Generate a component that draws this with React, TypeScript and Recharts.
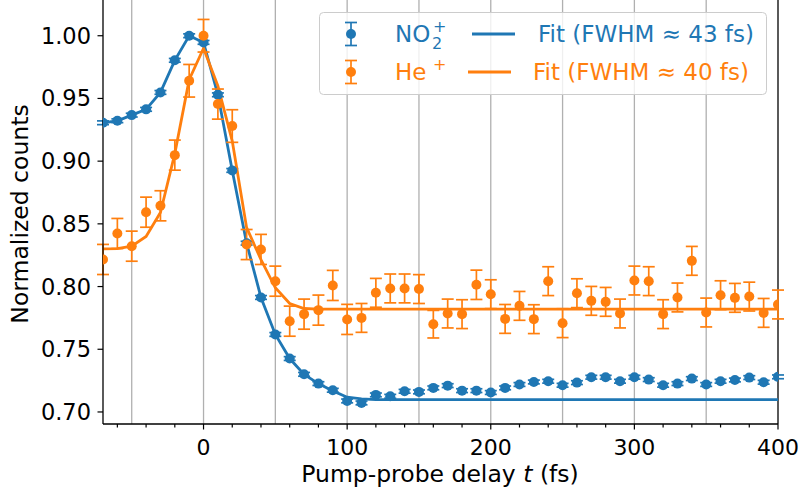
import React from "react";
import {
  ComposedChart,
  Line,
  Scatter,
  XAxis,
  YAxis,
  ErrorBar,
  ReferenceLine,
} from "recharts";

const BLUE = "#1f77b4";
const ORANGE = "#ff7f0e";
const FONT = "'DejaVu Sans', sans-serif";

// pump-probe delays (fs)
const delays = [
  -70, -60, -50, -40, -30, -20, -10, 0, 10, 20, 30, 40, 50, 60, 70, 80, 90, 100,
  110, 120, 130, 140, 150, 160, 170, 180, 190, 200, 210, 220, 230, 240, 250, 260,
  270, 280, 290, 300, 310, 320, 330, 340, 350, 360, 370, 380, 390, 400,
];

// NO2+ normalized counts
const no2Counts = [
  0.9306, 0.9322, 0.9367, 0.9413, 0.9548, 0.9804, 1.0, 0.9947, 0.9529, 0.8926,
  0.8346, 0.7913, 0.7618, 0.7426, 0.73, 0.7226, 0.7173, 0.7088, 0.7072, 0.7136,
  0.7125, 0.7165, 0.716, 0.7192, 0.721, 0.717, 0.717, 0.7155, 0.7192, 0.7219,
  0.7239, 0.7245, 0.7213, 0.7234, 0.7277, 0.7277, 0.7245, 0.7277, 0.7258, 0.7213,
  0.7226, 0.7266, 0.7219, 0.7245, 0.7255, 0.7274, 0.7237, 0.728,
];
const no2Err = [
  0.0015, 0.0015, 0.0015, 0.0015, 0.0015, 0.0015, 0.0015, 0.0015, 0.0015, 0.0015,
  0.0015, 0.0015, 0.0015, 0.0015, 0.0015, 0.0015, 0.0015, 0.0015, 0.0015, 0.0015,
  0.0015, 0.0015, 0.0015, 0.0015, 0.0015, 0.0015, 0.0015, 0.0015, 0.0015, 0.0015,
  0.0015, 0.0015, 0.0015, 0.0015, 0.0015, 0.0015, 0.0015, 0.0015, 0.0015, 0.0015,
  0.0015, 0.0015, 0.0015, 0.0015, 0.0015, 0.0015, 0.0015, 0.0015,
];
const no2Fit = [
  0.9306, 0.9322, 0.9367, 0.9413, 0.9548, 0.9804, 1.0, 0.9947, 0.9529, 0.8926,
  0.8346, 0.7913, 0.7618, 0.7426, 0.73, 0.7226, 0.7168, 0.7118, 0.7104, 0.7099,
  0.7098, 0.7098, 0.7098, 0.7098, 0.7098, 0.7098, 0.7098, 0.7098, 0.7098, 0.7098,
  0.7098, 0.7098, 0.7098, 0.7098, 0.7098, 0.7098, 0.7098, 0.7098, 0.7098, 0.7098,
  0.7098, 0.7098, 0.7098, 0.7098, 0.7098, 0.7098, 0.7098, 0.7098,
];

// He+ normalized counts
const heCounts = [
  0.8216, 0.8423, 0.8322, 0.8593, 0.8644, 0.9048, 0.9641, 1.0, 0.9455, 0.928,
  0.8335, 0.8296, 0.8043, 0.7724, 0.778, 0.7812, 0.8009, 0.7738, 0.775, 0.795,
  0.7985, 0.7985, 0.798, 0.77, 0.7785, 0.778, 0.8014, 0.7939, 0.7742, 0.7846,
  0.774, 0.8043, 0.7708, 0.7947, 0.7886, 0.7878, 0.7785, 0.8048, 0.8043, 0.778,
  0.7913, 0.8205, 0.7793, 0.7931, 0.791, 0.792, 0.779, 0.7857,
];
const heErr = [
  0.012, 0.012, 0.012, 0.012, 0.012, 0.012, 0.013, 0.013, 0.012, 0.013,
  0.012, 0.012, 0.012, 0.012, 0.012, 0.012, 0.012, 0.012, 0.0115, 0.0115,
  0.0115, 0.0115, 0.0115, 0.011, 0.0115, 0.0115, 0.0117, 0.0115, 0.0115, 0.0115,
  0.0115, 0.0115, 0.0115, 0.0115, 0.0115, 0.0115, 0.0115, 0.0115, 0.0115, 0.0115,
  0.0115, 0.0115, 0.0115, 0.0115, 0.0115, 0.0115, 0.0115, 0.0115,
];
const heFit = [
  0.83, 0.8303, 0.8322, 0.84, 0.859, 0.906, 0.965, 0.99, 0.96, 0.916,
  0.847, 0.8215, 0.799, 0.7865, 0.7825, 0.782, 0.782, 0.782, 0.782, 0.782,
  0.782, 0.782, 0.782, 0.782, 0.782, 0.782, 0.782, 0.782, 0.782, 0.782,
  0.782, 0.782, 0.782, 0.782, 0.782, 0.782, 0.782, 0.782, 0.782, 0.782,
  0.782, 0.782, 0.782, 0.782, 0.782, 0.782, 0.782, 0.782,
];

const xTicks = [
  -60, -40, -20, 0, 20, 40, 60, 80, 100, 120, 140, 160, 180, 200, 220, 240, 260,
  280, 300, 320, 340, 360, 380, 400,
];
const yTicks = [0.7, 0.75, 0.8, 0.85, 0.9, 0.95, 1.0];
const gridX = [-50, 0, 50, 100, 150, 200, 250, 300, 350];

const no2Points = delays.map((t, i) => ({ t, v: no2Counts[i], err: no2Err[i] }));
const hePoints = delays.map((t, i) => ({ t, v: heCounts[i], err: heErr[i] }));
const no2FitLine = delays.map((t, i) => ({ t, v: no2Fit[i] }));
const heFitLine = delays.map((t, i) => ({ t, v: heFit[i] }));

function XTick(props: any) {
  const { x, y, payload } = props;
  const major = payload.value % 100 === 0;
  return (
    <g>
      <line x1={x} x2={x} y1={y} y2={y + (major ? 5.5 : 3.5)} stroke="#000" strokeWidth={1.2} />
      {major && (
        <text x={x} y={y + 31} textAnchor="middle" fontSize={22} fontFamily={FONT} fill="#000">
          {payload.value}
        </text>
      )}
    </g>
  );
}

function XLabel() {
  return (
    <text x={440} y={482} textAnchor="middle" fontSize={23.5} fontFamily={FONT} fill="#000">
      Pump-probe delay <tspan fontStyle="italic">t</tspan> (fs)
    </text>
  );
}

function YLabel() {
  return (
    <text
      x={27.5}
      y={214}
      transform="rotate(-90 27.5 214)"
      textAnchor="middle"
      fontSize={23.5}
      fontFamily={FONT}
      fill="#000"
    >
      Normalized counts
    </text>
  );
}

function Dot(color: string) {
  return (p: any) => <circle cx={p.cx} cy={p.cy} r={5} fill={color} />;
}

function ErrMarker({ cy, color }: { cy: number; color: string }) {
  return (
    <g stroke={color} strokeWidth={1.7}>
      <line x1={32} x2={32} y1={cy - 11.5} y2={cy + 11.5} />
      <line x1={26} x2={38} y1={cy - 11.5} y2={cy - 11.5} />
      <line x1={26} x2={38} y1={cy + 11.5} y2={cy + 11.5} />
      <circle cx={32} cy={cy} r={5} fill={color} stroke="none" />
    </g>
  );
}

function LegendBox() {
  return (
    <svg
      width={449}
      height={84}
      style={{ position: "absolute", left: 318.5, top: 11.5, pointerEvents: "none" }}
    >
      <rect x={0.5} y={0.5} width={447} height={82} rx={4} fill="#fff" fillOpacity={0.8} stroke="#cccccc" />
      <g fontFamily={FONT} fontSize={23}>
        <ErrMarker cy={22} color={BLUE} />
        <text x={76} y={30} fill={BLUE}>NO</text>
        <text x={113} y={37} fill={BLUE} fontSize={16}>2</text>
        <text x={114} y={20} fill={BLUE} fontSize={16}>+</text>
        <line x1={153} x2={196} y1={22} y2={22} stroke={BLUE} strokeWidth={2.8} />
        <text x={219} y={30} fill={BLUE}>Fit (FWHM ≈ 43 fs)</text>

        <ErrMarker cy={60} color={ORANGE} />
        <text x={76} y={68} fill={ORANGE}>He</text>
        <text x={114} y={58} fill={ORANGE} fontSize={16}>+</text>
        <line x1={149} x2={192} y1={60} y2={60} stroke={ORANGE} strokeWidth={2.8} />
        <text x={214} y={68} fill={ORANGE}>Fit (FWHM ≈ 40 fs)</text>
      </g>
    </svg>
  );
}

export default function App() {
  return (
    <div style={{ position: "absolute", left: 0, top: 0, width: 801, height: 499, background: "#fff" }}>
      <ComposedChart width={801} height={499} margin={{ top: 0, right: 23, bottom: 0, left: 0 }}>
        <XAxis
          dataKey="t"
          type="number"
          domain={[-70, 400]}
          allowDataOverflow
          ticks={xTicks}
          interval={0}
          height={75}
          tickSize={0}
          tickMargin={0}
          tick={(p: any) => <XTick {...p} />}
          axisLine={{ stroke: "#000", strokeWidth: 1.3 }}
          label={<XLabel />}
        />
        <YAxis
          dataKey="v"
          type="number"
          domain={[0.6904, 1.0285]}
          allowDataOverflow
          ticks={yTicks}
          interval={0}
          width={103}
          tickSize={5.5}
          tickMargin={6.5}
          tickFormatter={(v: number) => v.toFixed(2)}
          tick={{ fill: "#000", fontSize: 22.5, fontFamily: FONT }}
          tickLine={{ stroke: "#000", strokeWidth: 1.2 }}
          axisLine={{ stroke: "#000", strokeWidth: 1.3 }}
          label={<YLabel />}
        />
        {gridX.map((g) => (
          <ReferenceLine key={g} x={g} stroke="#b0b0b0" strokeWidth={1.3} />
        ))}
        <ReferenceLine x={400} stroke="#000" strokeWidth={1.3} />
        <Scatter data={no2Points} fill={BLUE} shape={Dot(BLUE)} isAnimationActive={false}>
          <ErrorBar dataKey="err" direction="y" width={6} stroke={BLUE} strokeWidth={1.7} />
        </Scatter>
        <Line
          data={no2FitLine}
          dataKey="v"
          type="linear"
          stroke={BLUE}
          strokeWidth={2.8}
          dot={false}
          activeDot={false}
          isAnimationActive={false}
        />
        <Scatter data={hePoints} fill={ORANGE} shape={Dot(ORANGE)} isAnimationActive={false}>
          <ErrorBar dataKey="err" direction="y" width={6} stroke={ORANGE} strokeWidth={1.7} />
        </Scatter>
        <Line
          data={heFitLine}
          dataKey="v"
          type="linear"
          stroke={ORANGE}
          strokeWidth={2.8}
          dot={false}
          activeDot={false}
          isAnimationActive={false}
        />
      </ComposedChart>
      <LegendBox />
    </div>
  );
}
